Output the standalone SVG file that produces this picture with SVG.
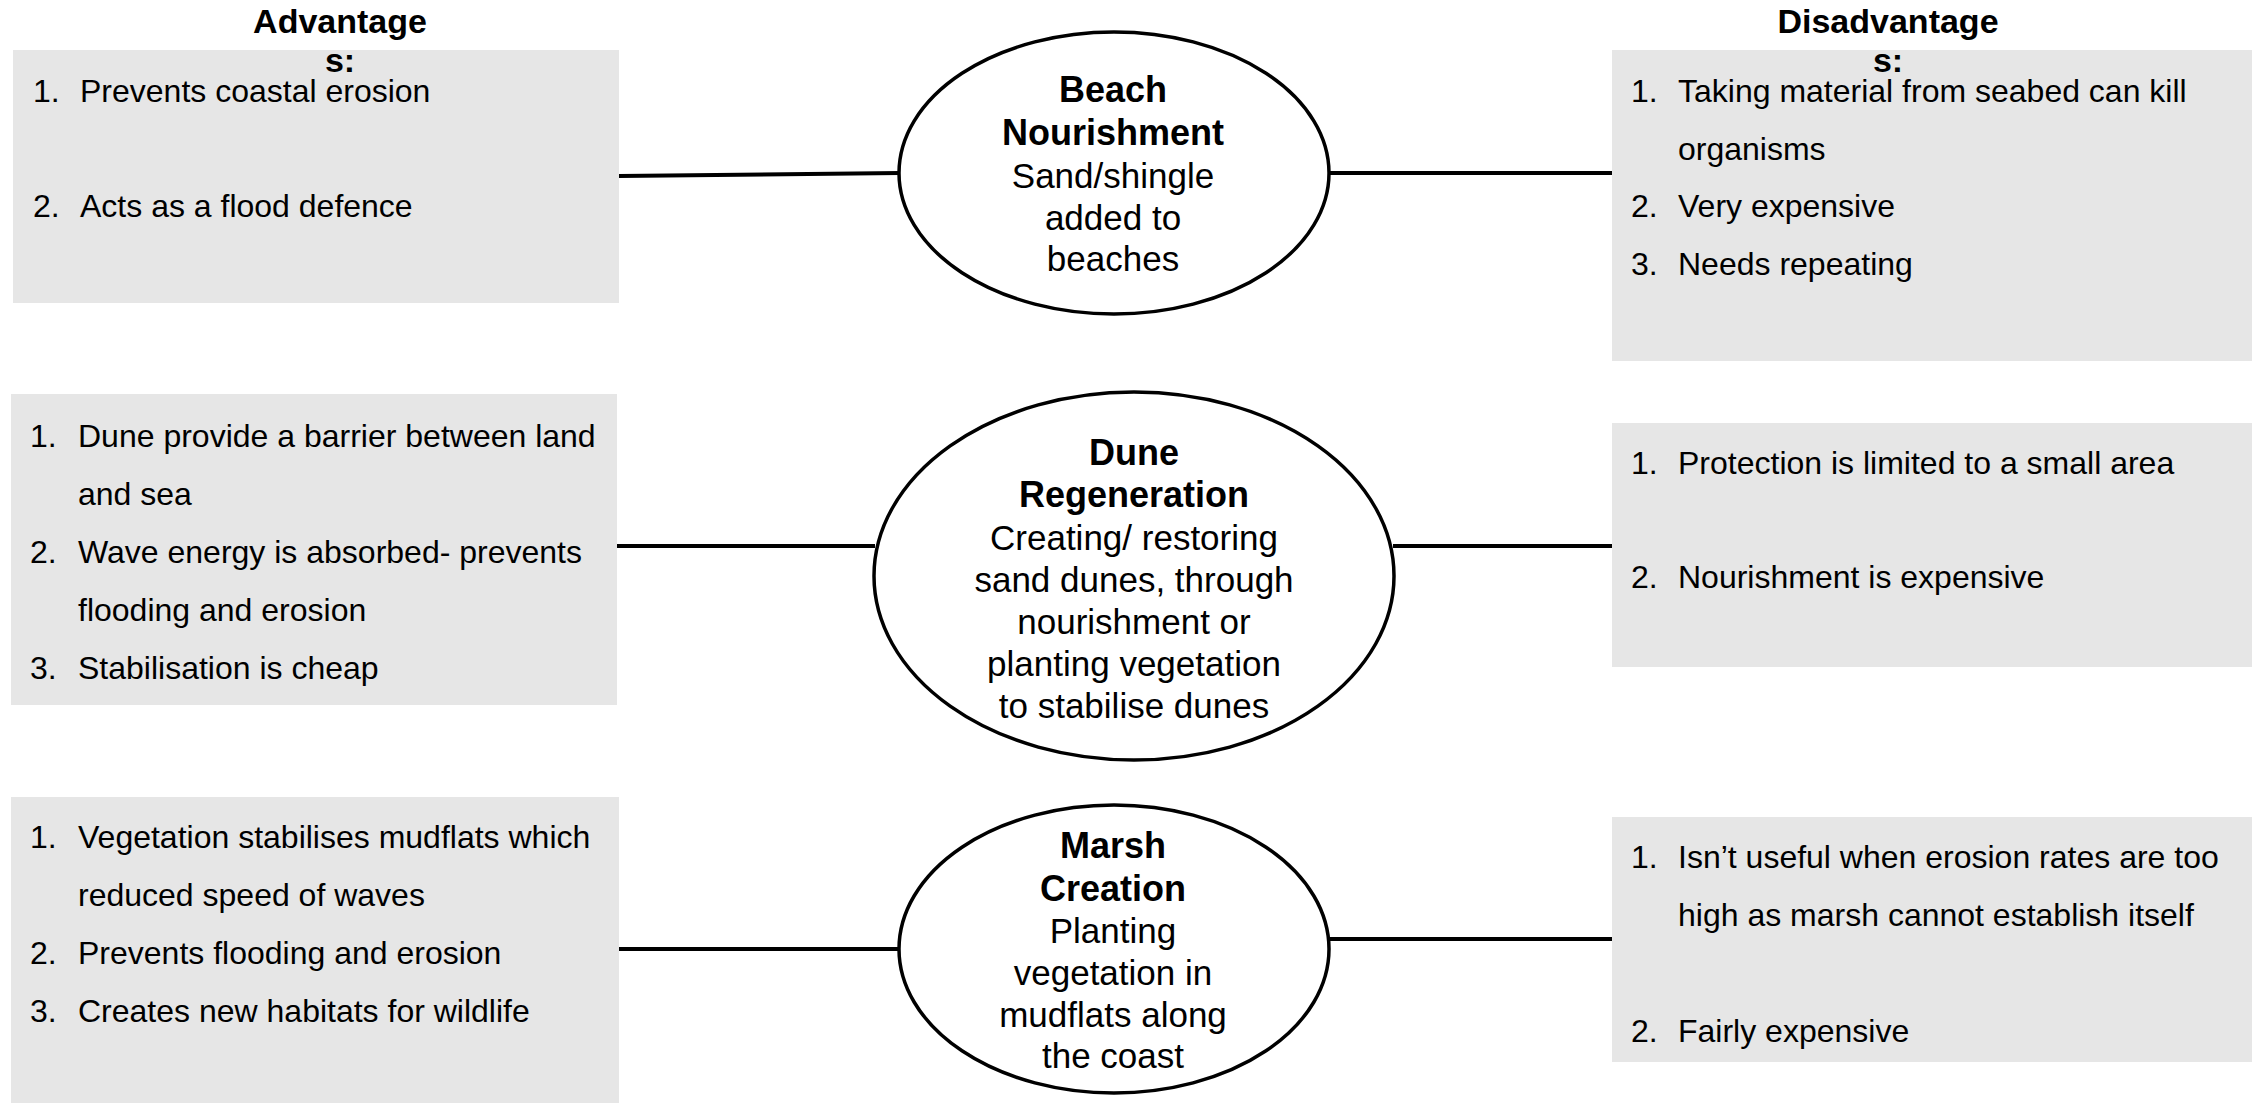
<svg xmlns="http://www.w3.org/2000/svg" width="2257" height="1103" viewBox="0 0 2257 1103">
  <style>
    .box { fill: #e6e6e6; }
    .node { fill: #ffffff; stroke: #000000; stroke-width: 3.5; }
    .link { stroke: #000000; stroke-width: 4; fill: none; }
    .head { font-family: "Liberation Sans", Arial, sans-serif; font-size: 34px; font-weight: bold; fill: #000; text-anchor: middle; }
    .item { font-family: "Liberation Sans", Arial, sans-serif; font-size: 32px; fill: #000; }
    .title { font-family: "Liberation Sans", Arial, sans-serif; font-size: 36px; font-weight: bold; fill: #000; text-anchor: middle; }
    .desc { font-family: "Liberation Sans", Arial, sans-serif; font-size: 35px; fill: #000; text-anchor: middle; }
  </style>
  <rect width="2257" height="1103" fill="#ffffff"/>

  <!-- connectors between method nodes and their lists -->
  <g id="connectors">
    <line class="link" x1="619" y1="176" x2="900" y2="173"/>
    <line class="link" x1="1328" y1="173" x2="1612" y2="173"/>
    <line class="link" x1="617" y1="546" x2="875" y2="546"/>
    <line class="link" x1="1393" y1="546" x2="1612" y2="546"/>
    <line class="link" x1="619" y1="949" x2="900" y2="949"/>
    <line class="link" x1="1328" y1="939" x2="1612" y2="939"/>
  </g>

  <!-- advantages of beach nourishment -->
  <g id="adv-beach">
    <rect class="box" x="13" y="50" width="606" height="253"/>
    <text class="item" x="33" y="102">1.</text>
    <text class="item" x="80" y="102">Prevents coastal erosion</text>
    <text class="item" x="33" y="217">2.</text>
    <text class="item" x="80" y="217">Acts as a flood defence</text>
  </g>

  <!-- disadvantages of beach nourishment -->
  <g id="dis-beach">
    <rect class="box" x="1612" y="50" width="640" height="311"/>
    <text class="item" x="1631" y="102">1.</text>
    <text class="item" x="1678" y="102">Taking material from seabed can kill</text>
    <text class="item" x="1678" y="160">organisms</text>
    <text class="item" x="1631" y="217">2.</text>
    <text class="item" x="1678" y="217">Very expensive</text>
    <text class="item" x="1631" y="275">3.</text>
    <text class="item" x="1678" y="275">Needs repeating</text>
  </g>

  <!-- column headings -->
  <g id="heading-adv">
    <text class="head" x="340" y="33">Advantage</text>
    <text class="head" x="340" y="72">s:</text>
  </g>
  <g id="heading-dis">
    <text class="head" x="1888" y="33">Disadvantage</text>
    <text class="head" x="1888" y="72">s:</text>
  </g>

  <!-- beach nourishment -->
  <g id="node-beach">
    <ellipse class="node" cx="1114" cy="173" rx="215" ry="141"/>
    <text class="title" x="1113" y="102">Beach</text>
    <text class="title" x="1113" y="145">Nourishment</text>
    <text class="desc" x="1113" y="188">Sand/shingle</text>
    <text class="desc" x="1113" y="230">added to</text>
    <text class="desc" x="1113" y="271">beaches</text>
  </g>

  <!-- advantages of dune regeneration -->
  <g id="adv-dune">
    <rect class="box" x="11" y="394" width="606" height="311"/>
    <text class="item" x="30" y="447">1.</text>
    <text class="item" x="78" y="447">Dune provide a barrier between land</text>
    <text class="item" x="78" y="505">and sea</text>
    <text class="item" x="30" y="563">2.</text>
    <text class="item" x="78" y="563">Wave energy is absorbed- prevents</text>
    <text class="item" x="78" y="621">flooding and erosion</text>
    <text class="item" x="30" y="679">3.</text>
    <text class="item" x="78" y="679">Stabilisation is cheap</text>
  </g>

  <!-- dune regeneration -->
  <g id="node-dune">
    <ellipse class="node" cx="1134" cy="576" rx="260" ry="184"/>
    <text class="title" x="1134" y="465">Dune</text>
    <text class="title" x="1134" y="507">Regeneration</text>
    <text class="desc" x="1134" y="550">Creating/ restoring</text>
    <text class="desc" x="1134" y="592">sand dunes, through</text>
    <text class="desc" x="1134" y="634">nourishment or</text>
    <text class="desc" x="1134" y="676">planting vegetation</text>
    <text class="desc" x="1134" y="718">to stabilise dunes</text>
  </g>

  <!-- disadvantages of dune regeneration -->
  <g id="dis-dune">
    <rect class="box" x="1612" y="423" width="640" height="244"/>
    <text class="item" x="1631" y="474">1.</text>
    <text class="item" x="1678" y="474">Protection is limited to a small area</text>
    <text class="item" x="1631" y="588">2.</text>
    <text class="item" x="1678" y="588">Nourishment is expensive</text>
  </g>

  <!-- advantages of marsh creation -->
  <g id="adv-marsh">
    <rect class="box" x="11" y="797" width="608" height="306"/>
    <text class="item" x="30" y="848">1.</text>
    <text class="item" x="78" y="848">Vegetation stabilises mudflats which</text>
    <text class="item" x="78" y="906">reduced speed of waves</text>
    <text class="item" x="30" y="964">2.</text>
    <text class="item" x="78" y="964">Prevents flooding and erosion</text>
    <text class="item" x="30" y="1022">3.</text>
    <text class="item" x="78" y="1022">Creates new habitats for wildlife</text>
  </g>

  <!-- marsh creation -->
  <g id="node-marsh">
    <ellipse class="node" cx="1114" cy="949" rx="215" ry="144"/>
    <text class="title" x="1113" y="858">Marsh</text>
    <text class="title" x="1113" y="901">Creation</text>
    <text class="desc" x="1113" y="943">Planting</text>
    <text class="desc" x="1113" y="985">vegetation in</text>
    <text class="desc" x="1113" y="1027">mudflats along</text>
    <text class="desc" x="1113" y="1068">the coast</text>
  </g>

  <!-- disadvantages of marsh creation -->
  <g id="dis-marsh">
    <rect class="box" x="1612" y="817" width="640" height="245"/>
    <text class="item" x="1631" y="868">1.</text>
    <text class="item" x="1678" y="868">Isn’t useful when erosion rates are too</text>
    <text class="item" x="1678" y="926">high as marsh cannot establish itself</text>
    <text class="item" x="1631" y="1042">2.</text>
    <text class="item" x="1678" y="1042">Fairly expensive</text>
  </g>
</svg>
